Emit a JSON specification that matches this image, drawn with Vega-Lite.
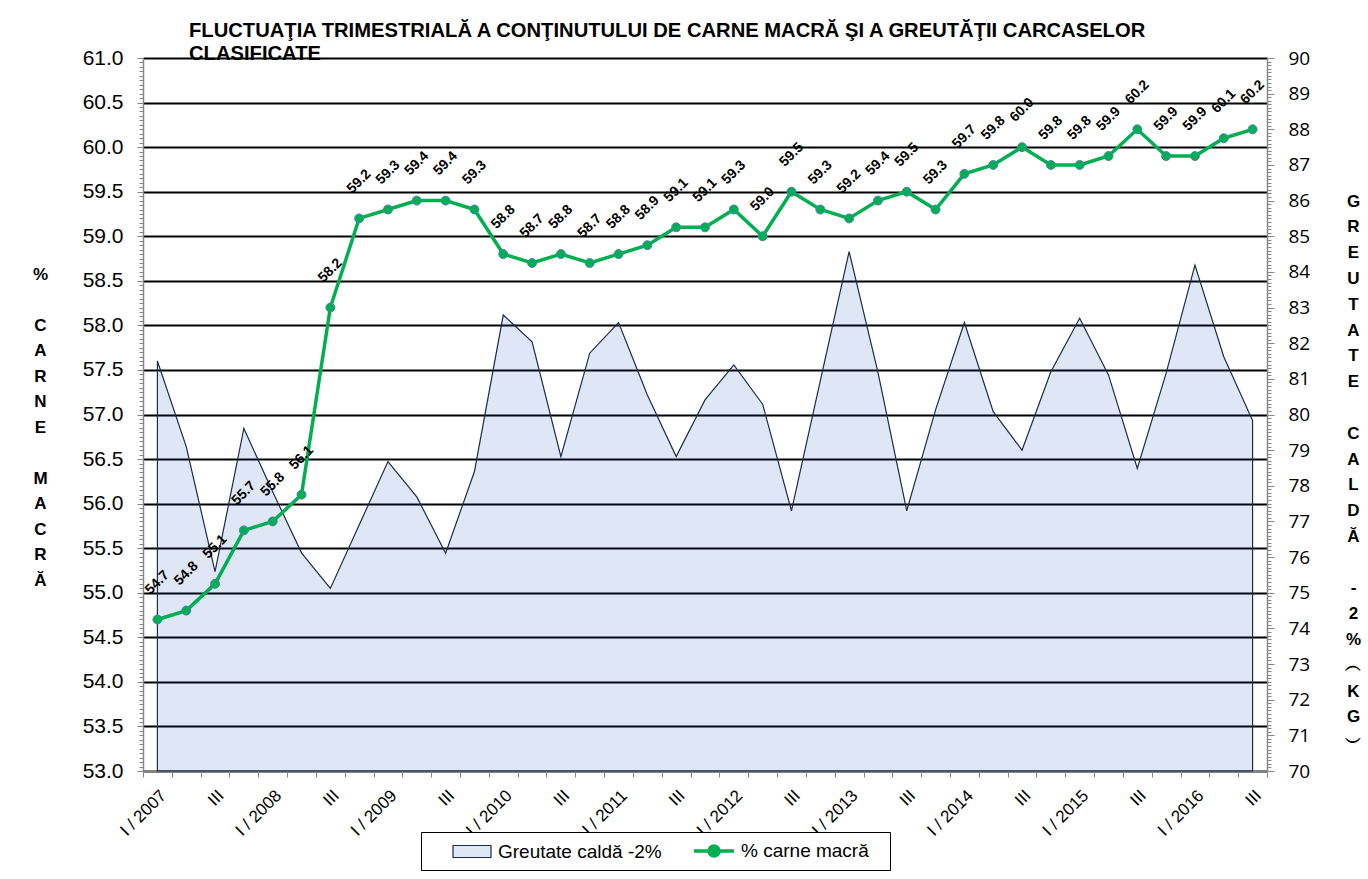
{
  "$schema": "https://vega.github.io/schema/vega-lite/v6.json",
  "width": 1124,
  "height": 713,
  "autosize": {"type": "none"},
  "padding": {"left": 143, "top": 58, "right": 101, "bottom": 108},
  "background": "white",
  "config": {
    "view": {"stroke": null},
    "font": "Liberation Sans"
  },
  "title": {
    "text": ["FLUCTUAŢIA TRIMESTRIALĂ  A CONŢINUTULUI DE CARNE MACRĂ ŞI A GREUTĂŢII CARCASELOR", "CLASIFICATE"],
    "anchor": "start",
    "frame": "group",
    "dx": 46,
    "offset": -17,
    "font": "Liberation Sans",
    "fontSize": 20.2,
    "fontWeight": "bold",
    "lineHeight": 22.5,
    "color": "black"
  },
  "data": {
    "values": [
      {"q": "I / 2007", "carne": 54.7, "greutate": 81.50},
      {"q": "II / 2007", "carne": 54.8, "greutate": 79.10},
      {"q": "III / 2007", "carne": 55.1, "greutate": 75.59},
      {"q": "IV / 2007", "carne": 55.7, "greutate": 79.61},
      {"q": "I / 2008", "carne": 55.8, "greutate": 77.83},
      {"q": "II / 2008", "carne": 56.1, "greutate": 76.12},
      {"q": "III / 2008", "carne": 58.2, "greutate": 75.12},
      {"q": "IV / 2008", "carne": 59.2, "greutate": 76.90},
      {"q": "I / 2009", "carne": 59.3, "greutate": 78.68},
      {"q": "II / 2009", "carne": 59.4, "greutate": 77.69},
      {"q": "III / 2009", "carne": 59.4, "greutate": 76.11},
      {"q": "IV / 2009", "carne": 59.3, "greutate": 78.40},
      {"q": "I / 2010", "carne": 58.8, "greutate": 82.79},
      {"q": "II / 2010", "carne": 58.7, "greutate": 82.04},
      {"q": "III / 2010", "carne": 58.8, "greutate": 78.82},
      {"q": "IV / 2010", "carne": 58.7, "greutate": 81.72},
      {"q": "I / 2011", "carne": 58.8, "greutate": 82.58},
      {"q": "II / 2011", "carne": 58.9, "greutate": 80.55},
      {"q": "III / 2011", "carne": 59.1, "greutate": 78.82},
      {"q": "IV / 2011", "carne": 59.1, "greutate": 80.41},
      {"q": "I / 2012", "carne": 59.3, "greutate": 81.39},
      {"q": "II / 2012", "carne": 59.0, "greutate": 80.29},
      {"q": "III / 2012", "carne": 59.5, "greutate": 77.30},
      {"q": "IV / 2012", "carne": 59.3, "greutate": 80.94},
      {"q": "I / 2013", "carne": 59.2, "greutate": 84.57},
      {"q": "II / 2013", "carne": 59.4, "greutate": 81.19},
      {"q": "III / 2013", "carne": 59.5, "greutate": 77.30},
      {"q": "IV / 2013", "carne": 59.3, "greutate": 80.13},
      {"q": "I / 2014", "carne": 59.7, "greutate": 82.58},
      {"q": "II / 2014", "carne": 59.8, "greutate": 80.08},
      {"q": "III / 2014", "carne": 60.0, "greutate": 79.00},
      {"q": "IV / 2014", "carne": 59.8, "greutate": 81.20},
      {"q": "I / 2015", "carne": 59.8, "greutate": 82.70},
      {"q": "II / 2015", "carne": 59.9, "greutate": 81.11},
      {"q": "III / 2015", "carne": 60.2, "greutate": 78.49},
      {"q": "IV / 2015", "carne": 59.9, "greutate": 81.16},
      {"q": "I / 2016", "carne": 59.9, "greutate": 84.19},
      {"q": "II / 2016", "carne": 60.1, "greutate": 81.62},
      {"q": "III / 2016", "carne": 60.2, "greutate": 79.83}
    ]
  },
  "encoding": {
    "x": {
      "field": "q",
      "type": "ordinal",
      "sort": null,
      "bandPosition": 0.5,
      "scale": {"type": "band", "paddingInner": 0, "paddingOuter": 0},
      "axis": {
        "title": null,
        "grid": false,
        "tickBand": "extent",
        "domainColor": "#868686",
        "domainWidth": 1.5,
        "tickColor": "#868686",
        "tickSize": 6,
        "labelAngle": -45,
        "labelFont": "Liberation Sans",
        "labelFontSize": 17,
        "labelColor": "black",
        "labelPadding": 10,
        "labelExpr": "indexof(datum.label, 'III /') === 0 ? 'III' : (indexof(datum.label, 'I /') === 0 ? datum.label : '')"
      }
    }
  },
  "layer": [
    {
      "mark": {
        "type": "area",
        "fill": "#003fb7",
        "fillOpacity": 0.125,
        "stroke": "#1c2b48",
        "strokeWidth": 1.2
      },
      "encoding": {
        "y": {
          "field": "greutate",
          "type": "quantitative",
          "scale": {"domain": [70, 90], "zero": false, "nice": false},
          "axis": {
            "orient": "right",
            "values": [70,70.1,70.2,70.3,70.4,70.5,70.6,70.7,70.8,70.9,71,71.1,71.2,71.3,71.4,71.5,71.6,71.7,71.8,71.9,72,72.1,72.2,72.3,72.4,72.5,72.6,72.7,72.8,72.9,73,73.1,73.2,73.3,73.4,73.5,73.6,73.7,73.8,73.9,74,74.1,74.2,74.3,74.4,74.5,74.6,74.7,74.8,74.9,75,75.1,75.2,75.3,75.4,75.5,75.6,75.7,75.8,75.9,76,76.1,76.2,76.3,76.4,76.5,76.6,76.7,76.8,76.9,77,77.1,77.2,77.3,77.4,77.5,77.6,77.7,77.8,77.9,78,78.1,78.2,78.3,78.4,78.5,78.6,78.7,78.8,78.9,79,79.1,79.2,79.3,79.4,79.5,79.6,79.7,79.8,79.9,80,80.1,80.2,80.3,80.4,80.5,80.6,80.7,80.8,80.9,81,81.1,81.2,81.3,81.4,81.5,81.6,81.7,81.8,81.9,82,82.1,82.2,82.3,82.4,82.5,82.6,82.7,82.8,82.9,83,83.1,83.2,83.3,83.4,83.5,83.6,83.7,83.8,83.9,84,84.1,84.2,84.3,84.4,84.5,84.6,84.7,84.8,84.9,85,85.1,85.2,85.3,85.4,85.5,85.6,85.7,85.8,85.9,86,86.1,86.2,86.3,86.4,86.5,86.6,86.7,86.8,86.9,87,87.1,87.2,87.3,87.4,87.5,87.6,87.7,87.8,87.9,88,88.1,88.2,88.3,88.4,88.5,88.6,88.7,88.8,88.9,89,89.1,89.2,89.3,89.4,89.5,89.6,89.7,89.8,89.9,90],
            "labelExpr": "abs(datum.value - round(datum.value)) < 0.01 ? format(datum.value, 'd') : ''",
            "labelOverlap": false,
            "labelBound": false,
            "grid": false,
            "domainColor": "#868686",
            "domainWidth": 1.5,
            "tickColor": "#868686",
            "tickSize": {"condition": {"test": "abs(datum.value - round(datum.value)) < 0.01", "value": 7}, "value": 4},
            "labelFont": "Open Sans",
            "labelFontSize": 19,
            "labelColor": "black",
            "labelPadding": 14,
            "title": ["G","R","E","U","T","A","T","E","\u2800","C","A","L","D","Ă","\u2800","-","2","%","︵","K","G","︶"],
            "titleAngle": 0,
            "titleX": 86,
            "titleY": 135,
            "titleAlign": "center",
            "titleBaseline": "top",
            "titleFont": "Liberation Sans",
            "titleFontSize": 17,
            "titleFontWeight": "bold",
            "titleLineHeight": 25.8,
            "titleColor": "black"
          }
        },
        "y2": {"datum": 70}
      }
    },
    {
      "data": {"values": [{"s": "Greutate caldă -2%"}, {"s": "% carne macră"}]},
      "mark": {"type": "point", "filled": false, "opacity": 0, "size": 400},
      "encoding": {
        "x": {"value": 0},
        "color": {
          "field": "s",
          "type": "nominal",
          "scale": {"domain": ["Greutate caldă -2%", "% carne macră"], "range": ["#1c2b48", "#00b050"]},
          "legend": {
            "title": null,
            "orient": "none",
            "legendX": 278,
            "legendY": 774,
            "direction": "horizontal",
            "strokeColor": "black",
            "fillColor": "white",
            "padding": 7,
            "labelFont": "Liberation Sans",
            "labelFontSize": 19,
            "labelColor": "black",
            "labelLimit": 400,
            "labelOffset": 15,
            "symbolSize": 400,
            "symbolOffset": 33,
            "symbolOpacity": 1,
            "columnPadding": 7,
            "labelExpr": "datum.value === '% carne macră' ? datum.label + '\u2800' : datum.label"
          }
        },
        "fill": {
          "field": "s",
          "type": "nominal",
          "scale": {"domain": ["Greutate caldă -2%", "% carne macră"], "range": ["#dfe7f5", "#00b050"]}
        },
        "shape": {
          "field": "s",
          "type": "nominal",
          "scale": {"domain": ["Greutate caldă -2%", "% carne macră"], "range": ["M-1.9,-0.6H1.9V0.6H-1.9Z", "M-2,0L2,0M-0.5,0A0.5,0.5 0 1,1 0.5,0A0.5,0.5 0 1,1 -0.5,0Z"]}
        },
        "strokeWidth": {
          "field": "s",
          "type": "ordinal",
          "scale": {"domain": ["Greutate caldă -2%", "% carne macră"], "range": [1.2, 3.5]}
        }
      }
    },
    {
      "encoding": {
        "y": {
          "field": "carne",
          "type": "quantitative",
          "scale": {"domain": [53, 61], "zero": false, "nice": false},
          "axis": {
            "orient": "left",
            "values": [53,53.05,53.1,53.15,53.2,53.25,53.3,53.35,53.4,53.45,53.5,53.55,53.6,53.65,53.7,53.75,53.8,53.85,53.9,53.95,54,54.05,54.1,54.15,54.2,54.25,54.3,54.35,54.4,54.45,54.5,54.55,54.6,54.65,54.7,54.75,54.8,54.85,54.9,54.95,55,55.05,55.1,55.15,55.2,55.25,55.3,55.35,55.4,55.45,55.5,55.55,55.6,55.65,55.7,55.75,55.8,55.85,55.9,55.95,56,56.05,56.1,56.15,56.2,56.25,56.3,56.35,56.4,56.45,56.5,56.55,56.6,56.65,56.7,56.75,56.8,56.85,56.9,56.95,57,57.05,57.1,57.15,57.2,57.25,57.3,57.35,57.4,57.45,57.5,57.55,57.6,57.65,57.7,57.75,57.8,57.85,57.9,57.95,58,58.05,58.1,58.15,58.2,58.25,58.3,58.35,58.4,58.45,58.5,58.55,58.6,58.65,58.7,58.75,58.8,58.85,58.9,58.95,59,59.05,59.1,59.15,59.2,59.25,59.3,59.35,59.4,59.45,59.5,59.55,59.6,59.65,59.7,59.75,59.8,59.85,59.9,59.95,60,60.05,60.1,60.15,60.2,60.25,60.3,60.35,60.4,60.45,60.5,60.55,60.6,60.65,60.7,60.75,60.8,60.85,60.9,60.95,61],
            "labelExpr": "abs(datum.value * 2 - round(datum.value * 2)) < 0.01 ? format(datum.value, '.1f') : ''",
            "labelOverlap": false,
            "labelBound": false,
            "grid": true,
            "gridColor": "black",
            "gridWidth": 2,
            "gridOpacity": {"condition": {"test": "abs(datum.value * 2 - round(datum.value * 2)) < 0.01", "value": 1}, "value": 0},
            "domainColor": "#868686",
            "domainWidth": 1.5,
            "tickColor": "#868686",
            "tickSize": {"condition": {"test": "abs(datum.value * 2 - round(datum.value * 2)) < 0.01", "value": 6}, "value": 4},
            "labelFont": "Liberation Sans",
            "labelFontSize": 21,
            "labelColor": "black",
            "labelPadding": 14,
            "title": ["%","\u2800","C","A","R","N","E","\u2800","M","A","C","R","Ă"],
            "titleAngle": 0,
            "titleX": -103,
            "titleY": 208,
            "titleAlign": "center",
            "titleBaseline": "top",
            "titleFont": "Liberation Sans",
            "titleFontSize": 17,
            "titleFontWeight": "bold",
            "titleLineHeight": 25.5,
            "titleColor": "black"
          }
        }
      },
      "layer": [
        {
          "mark": {"type": "line", "color": "#00b050", "strokeWidth": 3.5}
        },
        {
          "mark": {"type": "point", "filled": true, "fill": "#00b050", "stroke": "#4f81bd", "strokeWidth": 1, "size": 80, "opacity": 1}
        },
        {
          "mark": {"type": "text", "angle": 315, "align": "center", "baseline": "middle", "yOffset": -37, "font": "Liberation Sans", "fontSize": 14, "fontWeight": "bold", "color": "black"},
          "encoding": {
            "text": {"field": "carne", "type": "quantitative", "format": ".1f"}
          }
        }
      ]
    }
  ],
  "resolve": {"scale": {"y": "independent"}}
}
